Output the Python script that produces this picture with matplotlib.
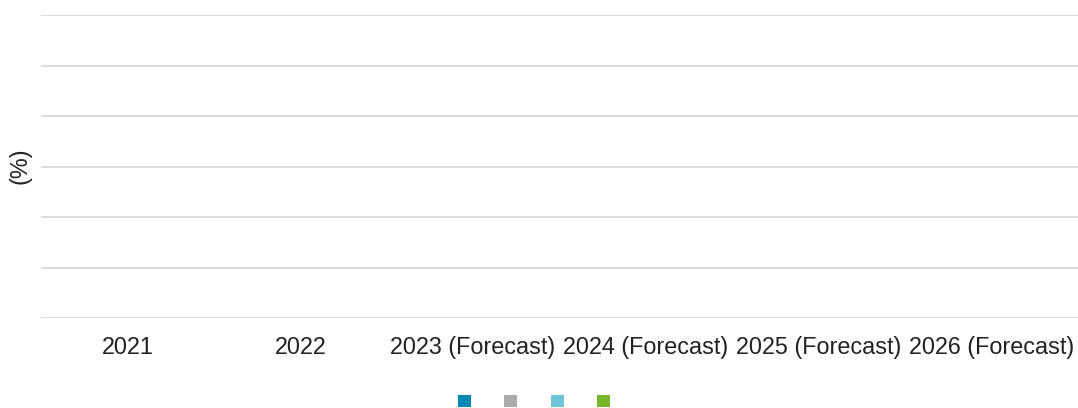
import numpy as np
import matplotlib.pyplot as plt
from matplotlib.patches import Patch

plt.rcParams['font.family'] = ['Liberation Sans', 'DejaVu Sans']

# categories on the x axis
years = ["2021", "2022", "2023 (Forecast)", "2024 (Forecast)",
         "2025 (Forecast)", "2026 (Forecast)"]

# the four series carry no values in the reference (empty chart)
series_a = [None, None, None, None, None, None]
series_b = [None, None, None, None, None, None]
series_c = [None, None, None, None, None, None]
series_d = [None, None, None, None, None, None]
series_names = ["", "", "", ""]
colors = ["#0089b7", "#ababab", "#6cc5d8", "#76b82a"]

fig = plt.figure(figsize=(10.78, 4.08), dpi=100)
ax = fig.add_axes([41 / 1078, 1 - 318 / 408, 1 - 41 / 1078, (318 - 15) / 408])

x = np.arange(len(years))
width = 0.2
for i, vals in enumerate([series_a, series_b, series_c, series_d]):
    h = np.array([np.nan if v is None else v for v in vals], dtype=float)
    ax.bar(x + (i - 1.5) * width, np.nan_to_num(h), width, color=colors[i])

ax.set_xlim(-0.5, len(years) - 0.5)
ax.set_ylim(0, 6)
ax.set_yticks(range(7))
ax.set_yticklabels([])
ax.yaxis.grid(True, color="#d9d9d9", linewidth=1.3)
ax.set_axisbelow(True)
ax.tick_params(axis="both", length=0)
ax.tick_params(axis="x", pad=13, labelsize=16.8, labelcolor="#222222")
ax.set_xticks(x)
ax.set_xticklabels(years)
for s in ax.spines.values():
    s.set_visible(False)

fig.text(20 / 1078, 1 - 166 / 408, "(%)", rotation=90, ha="center",
         va="center", fontsize=16.8, color="#222222")

handles = [Patch(facecolor=c, edgecolor="none") for c in colors]
fig.legend(handles, series_names, loc="center", ncol=4, frameon=False,
           bbox_to_anchor=(534 / 1078, 1 - 401.5 / 408), fontsize=9.4,
           handlelength=1, handleheight=1, handletextpad=0, columnspacing=2.55,
           borderpad=0)

plt.savefig("out.png", dpi=100)
